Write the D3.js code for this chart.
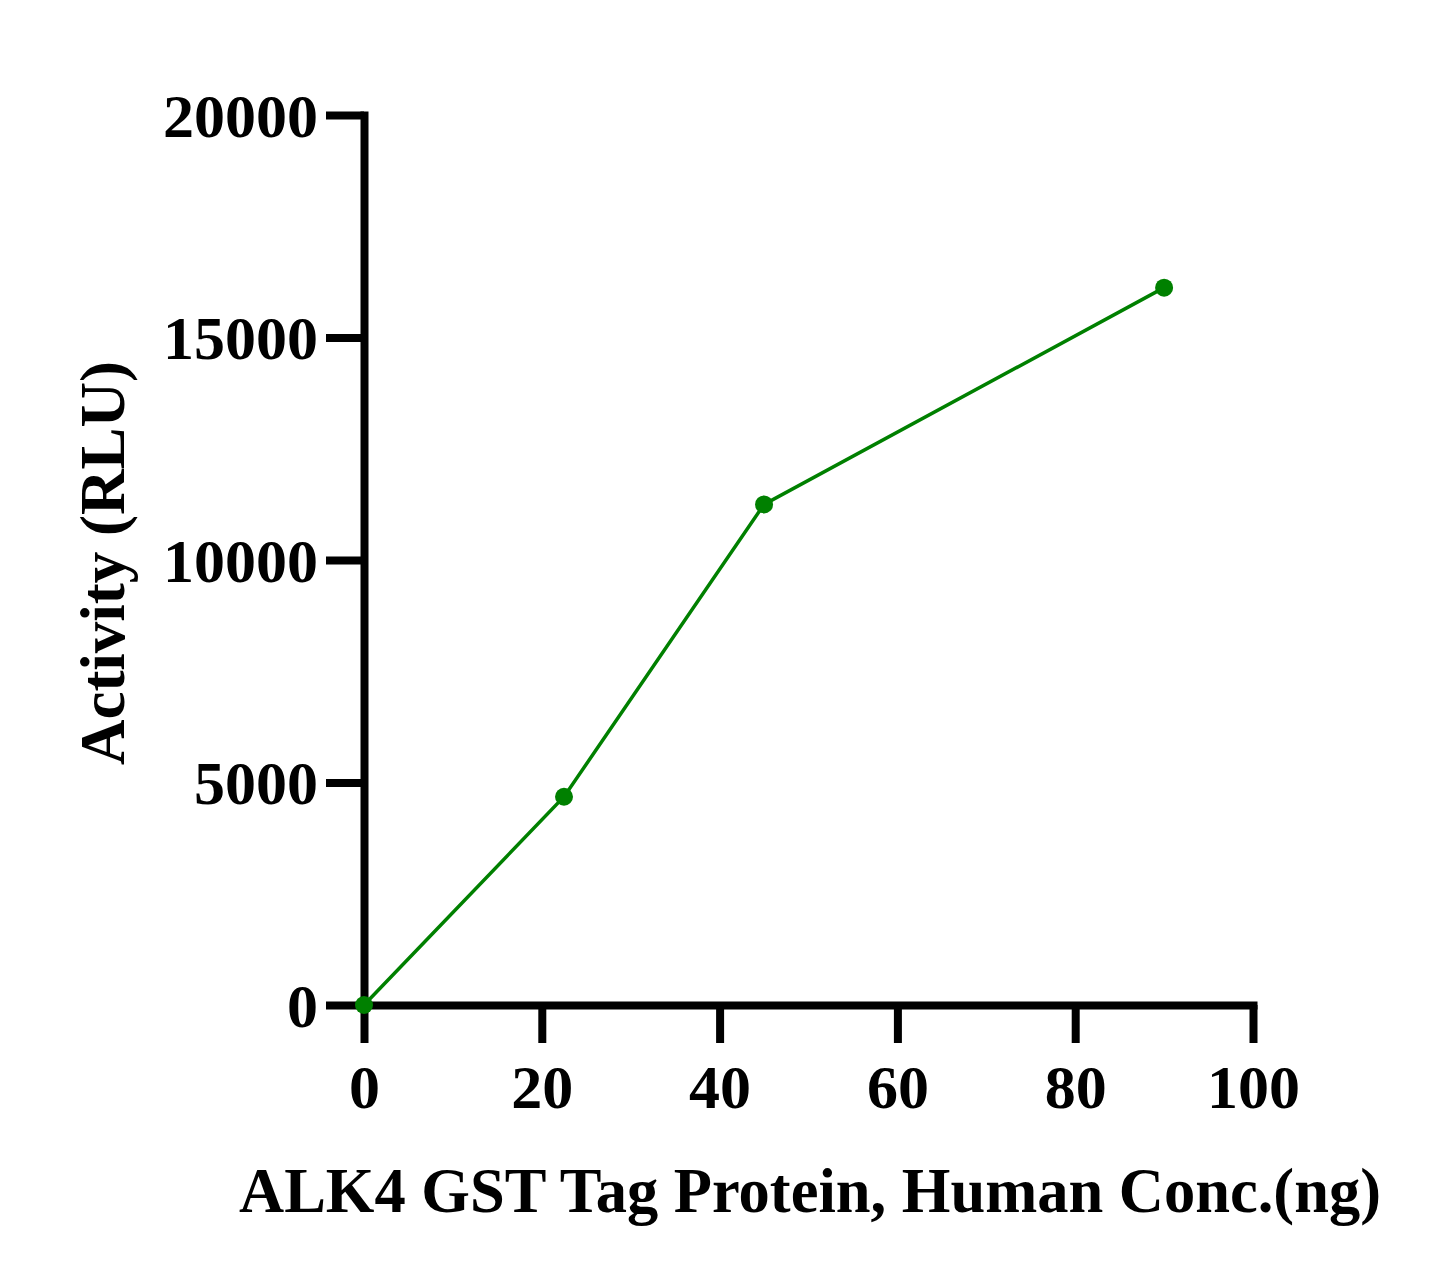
<!DOCTYPE html>
<html><head><meta charset="utf-8">
<script src="https://cdn.jsdelivr.net/npm/d3@7"></script>
<style>body{margin:0;background:#fff}svg{display:block}</style>
</head><body>
<svg id="c" width="1445" height="1287"></svg>
<script>
const concentrations = [0, 22.5, 45, 90];
const activity = [0, 4680, 11250, 16120];
const xTicks = [0, 20, 40, 60, 80, 100];
const yTicks = [0, 5000, 10000, 15000, 20000];
const xTitle = "ALK4 GST Tag Protein, Human Conc.(ng)";
const yTitle = "Activity (RLU)";

const svg = d3.select("#c");
svg.append("rect").attr("width",1445).attr("height",1287).attr("fill","#fff");
const x = d3.scaleLinear().domain([0,100]).range([364,1253]);
const y = d3.scaleLinear().domain([0,20000]).range([1005,115]);
const font = "'Liberation Serif','Times New Roman',serif";

const gx = svg.append("g").attr("transform","translate(0,1005)")
  .call(d3.axisBottom(x).tickValues(xTicks).tickFormat(d3.format("d")).tickSize(38).tickSizeOuter(0).tickPadding(21));
const gy = svg.append("g").attr("transform","translate(364,0)")
  .call(d3.axisLeft(y).tickValues(yTicks).tickFormat(d3.format("d")).tickSize(38).tickSizeOuter(0).tickPadding(8));
[gx,gy].forEach(g=>{
  g.select(".domain").attr("stroke","#000").attr("stroke-width",8).attr("stroke-linecap","square");
  g.selectAll(".tick line").attr("stroke","#000").attr("stroke-width",8);
  g.selectAll(".tick text").attr("fill","#000").style("font-family",font)
   .style("font-weight","bold").style("font-size","62px");
});
gx.selectAll(".tick text").attr("dy","0.71em");
gy.selectAll(".tick text").attr("dy","0.34em");

const pts = concentrations.map((c,i)=>[c,activity[i]]);
svg.append("path").datum(pts)
  .attr("d", d3.line().x(d=>x(d[0])).y(d=>y(d[1])))
  .attr("fill","none").attr("stroke","#008000").attr("stroke-width",3.5);
svg.selectAll("circle.pt").data(pts).enter().append("circle")
  .attr("cx",d=>x(d[0])).attr("cy",d=>y(d[1])).attr("r",9).attr("fill","#008000");

svg.append("text").attr("x",810).attr("y",1212).attr("text-anchor","middle")
  .style("font-family",font).style("font-weight","bold").style("font-size","62.5px").text(xTitle);
svg.append("text").attr("transform","translate(124,563) rotate(-90)").attr("text-anchor","middle")
  .style("font-family",font).style("font-weight","bold").style("font-size","63px").text(yTitle);
</script>
</body></html>
